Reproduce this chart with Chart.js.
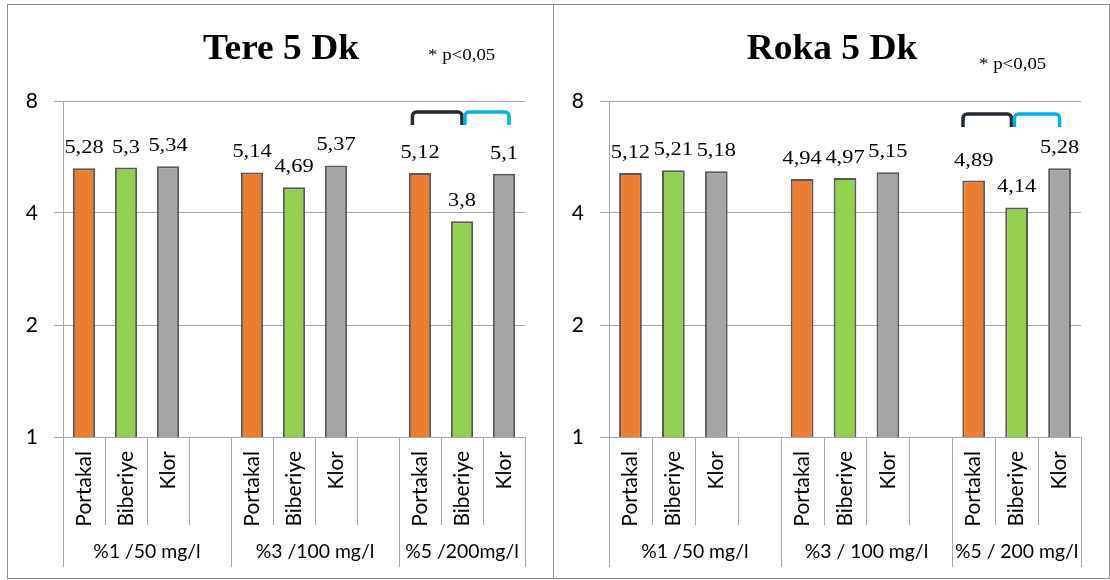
<!DOCTYPE html>
<html><head><meta charset="utf-8">
<script src="https://cdn.jsdelivr.net/npm/chart.js@4.4.1/dist/chart.umd.min.js"></script>
<style>
html,body{margin:0;padding:0;background:#fff;width:1110px;height:580px;overflow:hidden;}
.panel{position:absolute;border:1px solid #8c8c8c;box-sizing:border-box;}
canvas{position:absolute;top:0;}
</style></head><body>
<div class="panel" style="left:7px;top:4px;width:547px;height:575px"></div>
<div class="panel" style="left:553px;top:4px;width:557px;height:575px"></div>
<canvas id="c1" width="555" height="580" style="left:0px"></canvas>
<canvas id="c2" width="555" height="580" style="left:555px"></canvas>
<script>
// ---- data ----
const categories = ['Portakal','Biberiye','Klor','','Portakal','Biberiye','Klor','','Portakal','Biberiye','Klor'];
const groupSpans = [[0,4],[4,8],[8,11]];
const tereGroups = ['%1 /50 mg/l','%3 /100 mg/l','%5 /200mg/l'];
const rokaGroups = ['%1 /50 mg/l','%3 / 100 mg/l','%5 / 200 mg/l'];
const tereValues = [5.28,5.3,5.34,null,5.14,4.69,5.37,null,5.12,3.8,5.1];
const rokaValues = [5.12,5.21,5.18,null,4.94,4.97,5.15,null,4.89,4.14,5.28];
const yTicks = [1,2,4,8];
const tereTitle = 'Tere 5 Dk';
const rokaTitle = 'Roka 5 Dk';
const sigNote = '* p<0,05';
// significance brackets: pairs of category indices
const sigPairs = [[8,9],[9,10]];

// ---- styles ----
const treatmentColors = {Portakal:'#ED7D31', Biberiye:'#92D050', Klor:'#A5A5A5'};
const bracketColors = ['#232a33','#00b0f0'];
const gridColor = '#a6a6a6';

function stretchText(ctx, text, x, y, sx, align) {
  ctx.save();
  ctx.translate(x, y);
  ctx.scale(sx, 1);
  ctx.textAlign = align;
  ctx.fillText(text, 0, 0);
  ctx.restore();
}

function makeChart(id, values, groups, title, opt) {
  const overlay = {
    id: 'overlay',
    afterDraw(chart) {
      const ctx = chart.ctx, ys = chart.scales.y, ca = chart.chartArea;
      const n = categories.length, w = (ca.right - ca.left) / n;
      ctx.save();
      // category separators
      ctx.strokeStyle = gridColor; ctx.lineWidth = 1;
      const edges = new Set();
      groupSpans.forEach(g => { edges.add(g[0]); edges.add(g[1]); });
      for (let i = 0; i <= n; i++) {
        const x = Math.round(ca.left + i * w) + 0.5;
        const y2 = ca.bottom + (edges.has(i) ? 130 : 88);
        ctx.beginPath(); ctx.moveTo(x, ca.bottom); ctx.lineTo(x, y2); ctx.stroke();
      }
      // group labels
      ctx.fillStyle = '#000';
      ctx.font = '19px Lato';
      ctx.textBaseline = 'middle';
      groupSpans.forEach((g, k) => {
        stretchText(ctx, groups[k], ca.left + (g[0] + g[1]) / 2 * w, ca.bottom + 115, 1.02, 'center');
      });
      // value labels
      const meta = chart.getDatasetMeta(0);
      ctx.font = '19px "Liberation Serif"';
      ctx.textBaseline = 'alphabetic';
      meta.data.forEach((bar, i) => {
        const v = values[i];
        if (v == null) return;
        stretchText(ctx, String(v).replace('.', ','), bar.x, bar.y - 15, 1.18, 'center');
      });
      // title
      ctx.font = 'bold 36px "Liberation Serif"';
      stretchText(ctx, title, opt.titleX, 59, 1.04, 'center');
      ctx.font = '16px "Liberation Serif"';
      stretchText(ctx, sigNote, opt.noteX, opt.noteY, 1.18, 'left');
      // brackets
      const yt = ys.top + opt.brTop, yb = yt + 13, r = 4;
      ctx.lineWidth = 3.5; ctx.lineJoin = 'round'; ctx.lineCap = 'butt';
      sigPairs.forEach((p, k) => {
        const x1 = meta.data[p[0]].x + opt.brOff[k][0] * w;
        const x2 = meta.data[p[1]].x + opt.brOff[k][1] * w;
        ctx.strokeStyle = bracketColors[k];
        ctx.beginPath();
        ctx.moveTo(x1, yb);
        ctx.lineTo(x1, yt + r);
        ctx.arcTo(x1, yt, x1 + r, yt, r);
        ctx.lineTo(x2 - r, yt);
        ctx.arcTo(x2, yt, x2, yt + r, r);
        ctx.lineTo(x2, yb);
        ctx.stroke();
      });
      ctx.restore();
    }
  };
  return new Chart(document.getElementById(id), {
    type: 'bar',
    data: {
      labels: categories,
      datasets: [{
        data: values,
        backgroundColor: categories.map(c => treatmentColors[c] || 'transparent'),
        borderColor: '#595959',
        borderWidth: 2,
        barPercentage: 0.53,
        categoryPercentage: 1.0
      }]
    },
    options: {
      responsive: false,
      animation: false,
      devicePixelRatio: 1,
      layout: { padding: { left: 0, top: 101, right: opt.padRight, bottom: 0 } },
      plugins: { legend: { display: false }, tooltip: { enabled: false }, title: { display: false } },
      scales: {
        x: {
          grid: { display: false, drawTicks: false },
          border: { display: true, color: gridColor },
          ticks: {
            autoSkip: false, minRotation: 90, maxRotation: 90, padding: 14,
            color: '#000', font: { family: 'Lato', size: 21 }
          },
          afterFit(s) { s.height = 143; }
        },
        y: {
          type: 'logarithmic',
          min: 1, max: 8,
          grid: { color: gridColor, lineWidth: 1, drawTicks: true, tickLength: 9 },
          border: { display: true, color: gridColor },
          ticks: {
            padding: 16, color: '#000', font: { family: 'Lato', size: 21 },
            callback: v => String(v)
          },
          afterBuildTicks(s) { s.ticks = yTicks.map(v => ({ value: v })); },
          afterFit(s) { s.width = opt.yWidth; }
        }
      }
    },
    plugins: [overlay]
  });
}

makeChart('c1', tereValues, tereGroups, tereTitle,
  { padRight: 30, yWidth: 63, titleX: 281, noteX: 428, noteY: 60, brTop: 11, brOff: [[-0.18, 0], [0.07, 0.12]] });
makeChart('c2', rokaValues, rokaGroups, rokaTitle,
  { padRight: 29, yWidth: 54, titleX: 277, noteX: 424, noteY: 69, brTop: 13, brOff: [[-0.25, -0.12], [-0.05, 0]] });
</script>
</body></html>
